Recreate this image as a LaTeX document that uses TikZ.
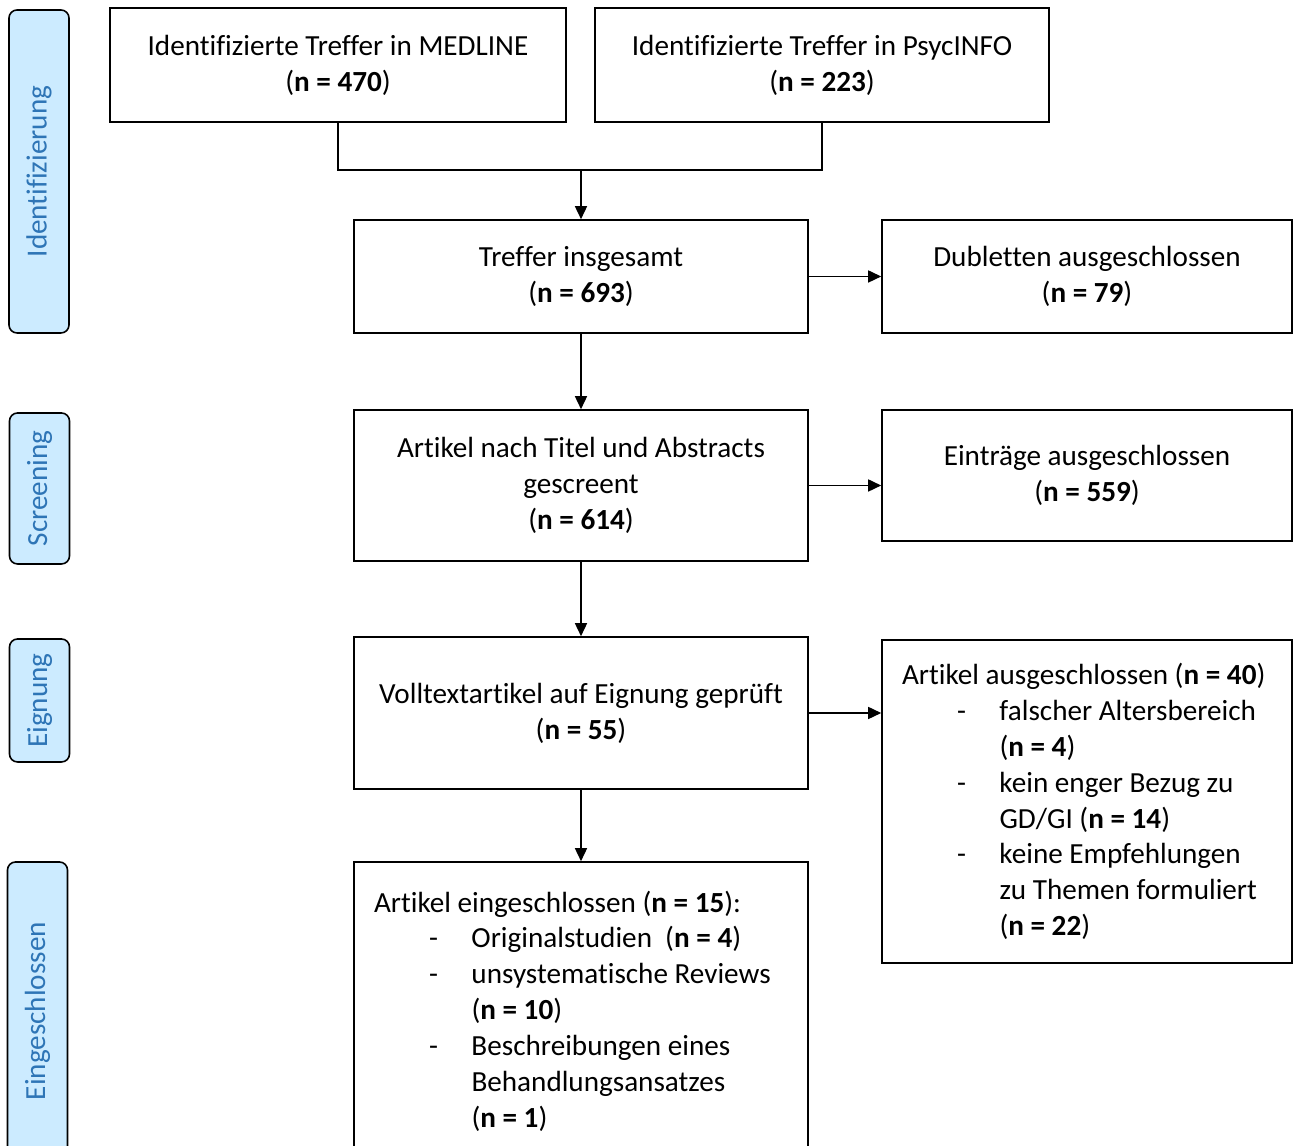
\documentclass[tikz,border=0pt]{standalone}
\usepackage{fontspec}
\setmainfont{Carlito}[Ligatures=NoCommon]
\usetikzlibrary{positioning}
\usetikzlibrary{arrows.meta}
\definecolor{phasefill}{HTML}{CCEBFF}
\definecolor{phasetext}{HTML}{2E75B6}
% list lines inside the exclusion / inclusion boxes
\newcommand{\itm}{\hspace*{1.1cm}\makebox[0.85cm][l]{-}}
\newcommand{\cnt}{\hspace*{1.95cm}}

\begin{document}
\begin{tikzpicture}[
  font=\fontsize{16.6}{20.4}\selectfont,
  box/.style={rectangle,draw=black,line width=0.9pt,align=center,minimum width=9.08cm},
  sidebox/.style={rectangle,draw=black,line width=0.9pt,minimum width=8.2cm},
  listbox/.style={rectangle,draw=black,line width=0.9pt,align=flush left,inner xsep=0.4cm},
  phase/.style={rectangle,draw=black,line width=0.9pt,rounded corners=0.16cm,fill=phasefill,text=phasetext,rotate=90,minimum height=1.2cm},
  arr/.style={line width=0.9pt,-{Triangle[length=0.26cm,width=0.24cm]}},
  lne/.style={line width=0.9pt}
]
\useasboundingbox (0,0) rectangle (25.86,22.92);
\clip (0,0) rectangle (25.86,22.92);

% phases
\node[phase,minimum width=6.46cm] (id) at (0.78,19.49) {Identifizierung};
\node[phase,minimum width=3.02cm] (scrn) at (0.79,13.15) {Screening};
\node[phase,minimum width=2.46cm] (elig) at (0.79,8.91) {Eignung};
\node[phase,minimum width=5.96cm] (incl) at (0.75,2.70) {Eingeschlossen};

% identification
\node[box,minimum width=9.12cm,minimum height=2.28cm] (med) at (6.76,21.62) {Identifizierte Treffer in MEDLINE\\(\textbf{n = 470})};
\node[box,minimum height=2.28cm] (psy) at (16.44,21.62) {Identifizierte Treffer in PsycINFO\\(\textbf{n = 223})};
\coordinate (join) at (11.62,19.52);

\node[box,minimum height=2.26cm] (tot) at (11.62,17.39) {Treffer insgesamt\\(\textbf{n = 693})};
\node[sidebox,align=center,minimum height=2.26cm] (dub) at (21.74,17.39) {Dubletten ausgeschlossen\\(\textbf{n = 79})};

% screening
\node[box,minimum height=3.02cm] (scr) at (11.62,13.21) {Artikel nach Titel und Abstracts\\gescreent\\(\textbf{n = 614})};
\node[sidebox,align=center,minimum height=2.62cm] (exc) at (21.74,13.41) {Einträge ausgeschlossen\\(\textbf{n = 559})};

% eligibility
\node[box,minimum height=3.04cm] (vol) at (11.62,8.66) {Volltextartikel auf Eignung geprüft\\(\textbf{n = 55})};
\node[listbox,inner xsep=0.3cm,text width=7.6cm,minimum height=6.46cm] (aus) at (21.74,6.89) {\hspace*{0.1cm}Artikel ausgeschlossen (\textbf{n = 40})\\
\hspace*{0.1cm}\itm falscher Altersbereich\\
\hspace*{0.1cm}\cnt(\textbf{n = 4})\\
\hspace*{0.1cm}\itm kein enger Bezug zu\\
\hspace*{0.1cm}\cnt GD/GI (\textbf{n = 14})\\
\hspace*{0.1cm}\itm keine Empfehlungen\\
\hspace*{0.1cm}\cnt zu Themen formuliert\\
\hspace*{0.1cm}\cnt(\textbf{n = 22})};

% included
\node[listbox,text width=8.28cm,minimum height=5.96cm] (inc) at (11.62,2.70) {Artikel eingeschlossen (\textbf{n = 15}):\\
\itm Originalstudien\ \ (\textbf{n = 4})\\
\itm unsystematische Reviews\\
\cnt(\textbf{n = 10})\\
\itm Beschreibungen eines\\
\cnt Behandlungsansatzes\\
\cnt(\textbf{n = 1})};

% connectors
\draw[lne] (med.south) |- (join) -| (psy.south);
\draw[arr] (join) -- (tot.north);
\draw[arr] (tot.east) -- (tot.east -| dub.west);
\draw[arr] (tot.south) -- (scr.north);
\draw[arr] (scr.east) -- (scr.east -| exc.west);
\draw[arr] (scr.south) -- (vol.north);
\draw[arr] (vol.east) -- (vol.east -| aus.west);
\draw[arr] (vol.south) -- (inc.north);

\end{tikzpicture}
\end{document}
